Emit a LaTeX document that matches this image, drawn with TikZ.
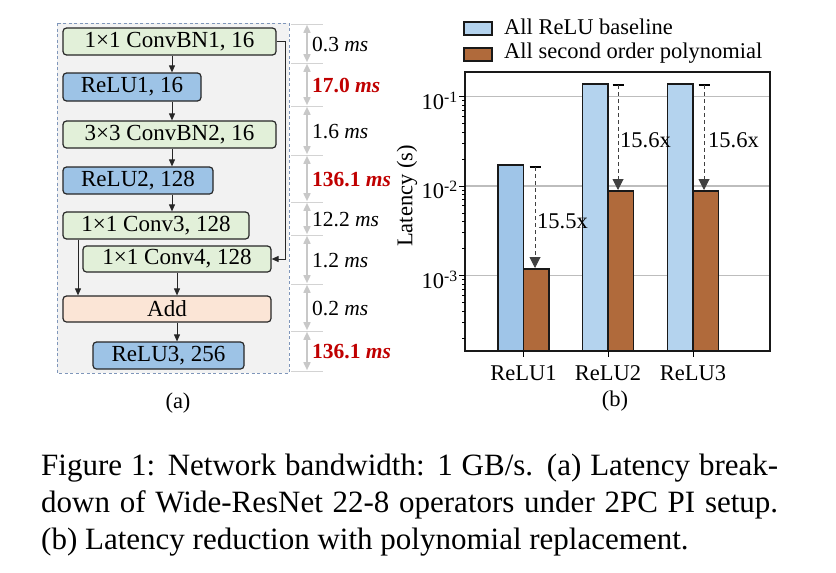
\documentclass[tikz,border=0pt]{standalone}
\usepackage{fontspec}
\setmainfont{Liberation Serif}
\usetikzlibrary{arrows.meta,calc}
\definecolor{gfill}{HTML}{E2F0D9}
\definecolor{bfill}{HTML}{9DC3E6}
\definecolor{afill}{HTML}{FBE5D6}
\definecolor{bgfill}{HTML}{F2F2F2}
\definecolor{dashc}{HTML}{7F96BA}
\definecolor{tgray}{HTML}{C8C8C8}
\definecolor{redt}{HTML}{C00000}
\definecolor{barblueA}{HTML}{9FC5E8}
\definecolor{barblue}{HTML}{B4D3EE}
\definecolor{barbrown}{HTML}{B06A3B}
\definecolor{gridc}{HTML}{BDBDBD}
\tikzset{
  opbox/.style={draw=black!85, line width=1.2pt, rounded corners=3.5pt, inner sep=0pt, anchor=center, font=\fontsize{23}{25}\selectfont},
  greenbox/.style={opbox, fill=gfill},
  bluebox/.style={opbox, fill=bfill},
  addbox/.style={opbox, fill=afill},
  flowarr/.style={draw=black!85, line width=0.9pt, -{Triangle[width=6pt,length=7pt]}},
  timearr/.style={draw=tgray, line width=1.6pt, {Triangle[width=7pt,length=8pt]}-{Triangle[width=7pt,length=8pt]}, shorten <=0.8pt, shorten >=0.8pt},
  timeline/.style={draw=tgray!80, line width=1pt},
  timelbl/.style={anchor=west, inner sep=0pt, font=\fontsize{21.5}{23}\selectfont},
  redlbl/.style={timelbl, text=redt, font=\fontsize{21.5}{23}\selectfont\bfseries},
  chartfont/.style={font=\fontsize{22.5}{24}\selectfont},
  barstyle/.style={draw=black!90, line width=1.2pt},
  redarr/.style={draw=black!75, line width=1pt, dash pattern=on 4pt off 3pt, -{Triangle[width=11pt,length=11pt]}},
  capbar/.style={draw=black, line width=2.6pt},
  capt/.style={anchor=base west, inner sep=0pt, font=\fontsize{31}{36}\selectfont}
}
\begin{document}
\begin{tikzpicture}[x=1pt,y=-1pt]
\useasboundingbox (0,0) rectangle (836,573);
% ---------- (a) ----------
\draw[dashc, line width=1pt, dash pattern=on 3pt off 2.5pt, fill=bgfill] (57,23) rectangle (289,373);
\node[greenbox, minimum width=213pt, minimum height=27pt] (c1) at (169.5,41.5) {1×1 ConvBN1, 16};
\node[bluebox, minimum width=138pt, minimum height=28pt] (r1) at (132,87) {ReLU1, 16};
\node[greenbox, minimum width=213pt, minimum height=27pt] (c2) at (169.5,134.5) {3×3 ConvBN2, 16};
\node[bluebox, minimum width=150pt, minimum height=27pt] (r2) at (138,180.5) {ReLU2, 128};
\node[greenbox, minimum width=186pt, minimum height=27pt] (c3) at (156,225.5) {1×1 Conv3, 128};
\node[greenbox, minimum width=188pt, minimum height=26pt] (c4) at (177,259) {1×1 Conv4, 128};
\node[addbox, minimum width=208pt, minimum height=26pt] (add) at (167,309) {Add};
\node[bluebox, minimum width=151pt, minimum height=27pt] (r3) at (168.5,355.5) {ReLU3, 256};
\coordinate (ax) at (172,0);
\coordinate (bx) at (177,0);
\coordinate (lx) at (78,0);
\coordinate (sk) at (285,0);
\draw[flowarr] (ax |- c1.south) -- (ax |- r1.north);
\draw[flowarr] (ax |- r1.south) -- (ax |- c2.north);
\draw[flowarr] (ax |- c2.south) -- (ax |- r2.north);
\draw[flowarr] (ax |- r2.south) -- (ax |- c3.north);
\draw[flowarr] (lx |- c3.south) -- (lx |- add.north);
\draw[flowarr] (bx |- c4.south) -- (bx |- add.north);
\draw[flowarr] (bx |- add.south) -- (bx |- r3.north);
\draw[flowarr] (c1.east) -- (sk |- c1.east) -- (sk |- c4.east) -- (c4.east);
% timing
\foreach \yy [count=\i] in {24,63,106,155,202,235,284,331,371} {
  \coordinate (t\i) at (307,\yy);
  \draw[timeline] (291,\yy) -- (323,\yy);
}
\foreach \a/\b in {1/2,2/3,3/4,4/5,5/6,6/7,7/8,8/9} {
  \draw[timearr] (t\a) -- (t\b);
}
\node[timelbl] (l1) at (312,44.5) {0.3 \textit{ms}};
\node[redlbl] (l2) at (312,86) {17.0 \textit{ms}};
\node[timelbl] (l3) at (312,131.5) {1.6 \textit{ms}};
\node[redlbl] (l4) at (312,180) {136.1 \textit{ms}};
\node[timelbl] (l5) at (312,219.5) {12.2 \textit{ms}};
\node[timelbl] (l6) at (312,260.5) {1.2 \textit{ms}};
\node[timelbl] (l7) at (312,308.5) {0.2 \textit{ms}};
\node[redlbl] (l8) at (312,352) {136.1 \textit{ms}};
\node[chartfont, inner sep=0pt] (cap-a) at (178,403) {(a)};
% ---------- (b) ----------
% gridlines
\foreach \yy in {96.5,186,275.5} { \draw[gridc, line width=1.3pt] (465,\yy) -- (770,\yy); }
% bars
\draw[barstyle, fill=barblueA] (498,351) rectangle (523.5,165);
\draw[barstyle, fill=barbrown] (523.5,351) rectangle (549,269);
\draw[barstyle, fill=barblue] (582.5,351) rectangle (608,84);
\draw[barstyle, fill=barbrown] (608,351) rectangle (633.5,191);
\draw[barstyle, fill=barblue] (667.5,351) rectangle (693,84);
\draw[barstyle, fill=barbrown] (693,351) rectangle (718.5,191);
% frame
\draw[black!90, line width=1.5pt] (465,72) rectangle (770,351);
% y ticks
\foreach \yy in {96.5,186,275.5} { \draw[black, line width=1pt] (465,\yy) -- (459,\yy); }
\foreach \k in {-2,-3,-4} {
  \foreach \m in {2,...,9} {
    \pgfmathsetmacro{\yy}{186-(ln(\m)/ln(10)+\k+2)*89.5}
    \draw[black, line width=0.8pt] (465,\yy) -- (461.5,\yy);
  }
}
\node[chartfont, anchor=east, inner sep=0pt] (y1) at (458,101) {10\textsuperscript{-1}};
\node[chartfont, anchor=east, inner sep=0pt] (y2) at (458,190) {10\textsuperscript{-2}};
\node[chartfont, anchor=east, inner sep=0pt] (y3) at (458,280) {10\textsuperscript{-3}};
\node[chartfont, rotate=90, inner sep=0pt] (ylab) at (407,196) {Latency (s)};
% x ticks
\foreach \xx/\nm in {523.5/ReLU1,608/ReLU2,693/ReLU3} {
  \draw[black, line width=1pt] (\xx,351) -- (\xx,357);
  \node[chartfont, inner sep=0pt] (x\nm) at (\xx,373) {\nm};
}
\node[chartfont, inner sep=0pt] (cap-b) at (615,401) {(b)};
% dashed reduction arrows
\coordinate (s1) at (535,167); \coordinate (e1) at (535,268);
\coordinate (s2) at (618,85);  \coordinate (e2) at (618,190);
\coordinate (s3) at (704,85);  \coordinate (e3) at (704,190);
\foreach \i in {1,2,3} {
  \draw[capbar] ($(s\i)+(-5.5,0)$) -- ($(s\i)+(5.5,0)$);
  \draw[redarr] (s\i) -- (e\i);
}
\node[chartfont, anchor=west, inner sep=0pt] (f1) at (537,221) {15.5x};
\node[chartfont, anchor=west, inner sep=0pt] (f2) at (620,140) {15.6x};
\node[chartfont, anchor=west, inner sep=0pt] (f3) at (708,140) {15.6x};
% legend
\draw[barstyle, fill=barblue] (464,22) rectangle (492,35);
\draw[barstyle, fill=barbrown] (464,48) rectangle (492,61);
\node[chartfont, anchor=west, inner sep=0pt] (lg1) at (504,27) {All ReLU baseline};
\node[chartfont, anchor=west, inner sep=0pt] (lg2) at (504,53) {All second order polynomial};
% ---------- caption ----------
\node[capt] (cl1) at (41,475) {\makebox[737pt][s]{Figure 1: Network bandwidth: 1 GB/s. (a) Latency break-}};
\node[capt] (cl2) at (41,512) {\makebox[737pt][s]{down of Wide-ResNet 22-8 operators under 2PC PI setup.}};
\node[capt] (cl3) at (41,549) {(b) Latency reduction with polynomial replacement.};
\end{tikzpicture}
\end{document}
